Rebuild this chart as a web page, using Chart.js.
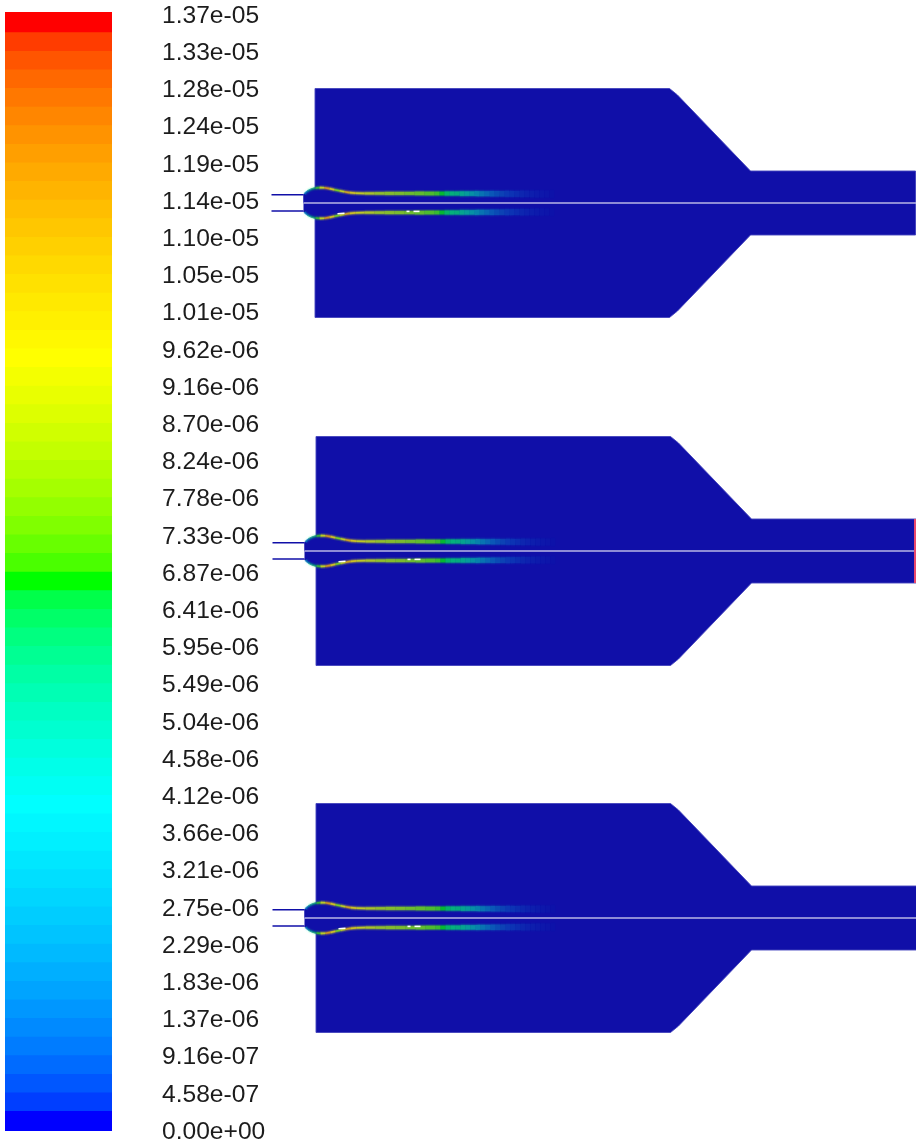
<!DOCTYPE html>
<html>
<head>
<meta charset="utf-8">
<title>Contours</title>
<script src="https://cdn.jsdelivr.net/npm/chart.js"></script>
<style>
    html, body { margin: 0; padding: 0; background: #fff; overflow: hidden; }
    canvas { position: absolute; top: 0; }
    #colorbar { left: 0; filter: blur(0.45px); }
    #contours { left: 270px; filter: blur(0.6px); }
</style>
</head>
<body>
<canvas id="colorbar" width="280" height="1142"></canvas>
<canvas id="contours" width="646" height="1142"></canvas>
<script>
// Colorbar: values are in units of 1e-6, bottom to top
const tickLabels = ['0.00e+00', '4.58e-07', '9.16e-07', '1.37e-06', '1.83e-06', '2.29e-06', '2.75e-06', '3.21e-06',
    '3.66e-06', '4.12e-06', '4.58e-06', '5.04e-06', '5.49e-06', '5.95e-06', '6.41e-06', '6.87e-06', '7.33e-06',
    '7.78e-06', '8.24e-06', '8.70e-06', '9.16e-06', '9.62e-06', '1.01e-05', '1.05e-05', '1.10e-05', '1.14e-05',
    '1.19e-05', '1.24e-05', '1.28e-05', '1.33e-05', '1.37e-05'];
const tickValues = [0, 0.458, 0.916, 1.374, 1.832, 2.29, 2.748, 3.206, 3.664, 4.122, 4.58, 5.038, 5.496, 5.954,
    6.412, 6.87, 7.328, 7.786, 8.244, 8.702, 9.16, 9.618, 10.076, 10.534, 10.992, 11.45, 11.908, 12.366, 12.824,
    13.282, 13.74];
const bandEdges = [-0.012, 0.229, 0.458, 0.687, 0.916, 1.145, 1.374, 1.603, 1.832, 2.061, 2.29, 2.519, 2.748, 2.977,
    3.206, 3.435, 3.664, 3.893, 4.122, 4.351, 4.58, 4.809, 5.038, 5.267, 5.496, 5.725, 5.954, 6.183, 6.412, 6.641,
    6.87, 7.099, 7.328, 7.557, 7.786, 8.015, 8.244, 8.473, 8.702, 8.931, 9.16, 9.389, 9.618, 9.847, 10.076, 10.305,
    10.534, 10.763, 10.992, 11.221, 11.45, 11.679, 11.908, 12.137, 12.366, 12.595, 12.824, 13.053, 13.282, 13.511,
    13.765];
const bandColors = ['#0000ff', '#003eff', '#0057ff', '#006bff', '#007cff', '#008aff', '#0097ff', '#00a4ff', '#00afff',
    '#00baff', '#00c4ff', '#00cdff', '#00d6ff', '#00dfff', '#00e7ff', '#00f0ff', '#00f7ff', '#00ffff',
    '#00fff4', '#00ffe9', '#00ffdd', '#00ffd0', '#00ffc3', '#00ffb4', '#00ffa5', '#00ff93', '#00ff80', '#00ff68',
    '#00ff4a', '#00ff00',
    '#4aff00', '#68ff00', '#80ff00', '#93ff00', '#a5ff00', '#b4ff00', '#c3ff00', '#d0ff00', '#ddff00', '#e9ff00',
    '#f4ff00', '#ffff00',
    '#fff800', '#fff000', '#ffe900', '#ffe100', '#ffd900', '#ffd000', '#ffc700', '#ffbe00', '#ffb400', '#ffaa00',
    '#ff9f00', '#ff9300', '#ff8600', '#ff7800', '#ff6800', '#ff5500', '#ff3c00', '#ff0000'];
// labels sit a little under their level in the original
const labelDrop = 0.024;

// Domain outline, axial position and signed radius
const wallX = [304, 304, 306, 310, 315.5, 315.5, 670, 678, 751, 916, 916, 751, 678, 670, 315.5, 315.5, 310, 306, 304];
const wallR = [0, 8.5, 11, 13.5, 15.5, 114.5, 114.5, 108, 32, 32, -32, -32, -108, -114.5, -114.5, -15.5, -13.5, -11, -8.5];

// Shear layer along the upper and lower wall
const layerX = [305, 308, 312, 316, 320, 325, 330, 335, 340, 345, 350, 356, 365, 375, 385, 395, 405, 415, 425, 435,
    440, 445, 450, 455, 460, 465, 470, 475, 480, 485, 490, 495, 500, 505, 510, 515, 520, 525, 530, 535, 540, 545, 550, 555];
const layerR = [9, 12, 14, 15, 15.4, 15.2, 14.4, 13.3, 12.2, 11.2, 10.4, 9.9, 9.6, 9.6, 9.6, 9.6, 9.6, 9.6, 9.6, 9.5,
    9.5, 9.5, 9.5, 9.5, 9.4, 9.4, 9.4, 9.4, 9.3, 9.3, 9.3, 9.3, 9.2, 9.2, 9.2, 9.1, 9.1, 9.1, 9.1, 9, 9, 9, 9, 9];
const layerValue = [5, 6, 6.5, 7, 9, 11.5, 10, 7.6, 9, 11, 10, 9.2, 8.8, 8.4, 8.1, 7.8, 7.6, 7.4, 7.2, 7,
    6.8, 6.6, 6.4, 6.2, 6, 5.8, 5.6, 5.4, 5.2, 5, 4.8, 4.6, 4.4, 4.2, 4, 3.9, 3.8, 3.7, 3.6, 3.5, 3.4, 3.3, 3.2, 3.1];
const layerAlpha = [0.3, 0.35, 0.4, 0.6, 0.75, 0.75, 0.75, 0.75, 0.75, 0.75, 0.75, 0.72, 0.7, 0.68, 0.66, 0.66, 0.66, 0.66, 0.66, 0.66,
    0.64, 0.62, 0.6, 0.57, 0.54, 0.5, 0.45, 0.39, 0.33, 0.28, 0.23, 0.19, 0.16, 0.13, 0.11, 0.09, 0.075, 0.06, 0.05, 0.04, 0.03, 0.025, 0.02, 0.01];
const layerWidth = [1.6, 1.6, 1.6, 1.6, 1.6, 1.6, 1.6, 1.6, 1.6, 1.6, 1.6, 1.8, 2.2, 2.5, 3, 3, 3, 3.5, 3.5, 3.5,
    3.5, 4, 4, 4, 4.5, 4.5, 4.5, 5, 5, 5, 5.5, 5.5, 5.5, 6, 6, 6, 6.5, 6.5, 6.5, 7, 7, 7, 7.5, 7.5];

// Inlet pipe and the small white gaps on the lower side of each panel
const pipeX = [272, 304];
const pipeR = [8.3, -8];
const gapX = [[338, 345], [407, 410], [414, 420]];
const gapR = [[-10.8, -10.2], [-8.4, -8.4], [-8.4, -8.4]];

// Vertical place of each panel on the y scale, and its small sideways slip
const panelCenter = [939, 591, 224];
const panelShift = [-0.5, 0.5, 0.5];

const chamberBlue = '#100fa8';

function bandColor(value, alpha) {
    let i = bandEdges.findIndex(e => e > value) - 1;
    if (i < 0) i = 0;
    const hex = bandColors[i];
    const r = parseInt(hex.slice(1, 3), 16), g = parseInt(hex.slice(3, 5), 16), b = parseInt(hex.slice(5, 7), 16);
    return `rgba(${r},${g},${b},${alpha})`;
}

function toPoints(xs, rs, center, shift) {
    return xs.map((x, i) => ({ x: x + shift, y: center + rs[i] }));
}

function initColorbar() {
    const datasets = bandColors.map((color, i) => ({
        data: [[bandEdges[i], bandEdges[i + 1]]],
        backgroundColor: color,
        borderWidth: 0,
        grouped: false,
        barPercentage: 1,
        categoryPercentage: 1
    }));
    new Chart(document.getElementById('colorbar').getContext('2d'), {
        type: 'bar',
        data: { labels: [''], datasets: datasets },
        options: {
            responsive: false, animation: false,
            layout: { padding: { left: 5, top: 12, bottom: 11, right: 0 } },
            plugins: { legend: { display: false }, tooltip: { enabled: false } },
            scales: {
                x: { display: false },
                y: {
                    position: 'right',
                    min: bandEdges[0],
                    max: bandEdges[bandEdges.length - 1],
                    grid: { display: false, drawTicks: false },
                    border: { display: false },
                    afterBuildTicks: scale => { scale.ticks = tickValues.map(v => ({ value: v - labelDrop })); },
                    afterFit: scale => { scale.width = 168; scale.paddingTop = 0; scale.paddingBottom = 0; },
                    ticks: {
                        autoSkip: false, padding: 50, crossAlign: 'near', color: '#1c1c1c',
                        font: { family: '"Liberation Sans"', size: 24.6 },
                        callback: (v, i) => tickLabels[i]
                    }
                }
            }
        }
    });
}

function layerDataset(center, shift, sign, widthExtra, alphaScale, order) {
    return {
        data: toPoints(layerX, layerR.map(r => r * sign), center, shift),
        showLine: true, pointRadius: 0, tension: 0, order: order, borderWidth: 2,
        segment: {
            borderColor: ctx => bandColor(layerValue[ctx.p0DataIndex], layerAlpha[ctx.p0DataIndex] * alphaScale),
            borderWidth: ctx => layerWidth[ctx.p0DataIndex] + widthExtra
        }
    };
}

function initContours() {
    const datasets = [];
    panelCenter.forEach((center, p) => {
        const shift = panelShift[p];
        // walls first, layers and axis go on top
        datasets.push({
            data: toPoints(wallX, wallR, center, shift),
            showLine: true, pointRadius: 0, tension: 0, order: 7,
            fill: 'shape', backgroundColor: chamberBlue,
            borderColor: 'rgba(70,70,190,0.9)', borderWidth: 1
        });
        [1, -1].forEach(sign => {
            datasets.push(layerDataset(center, shift, sign, 3.5, 0.2, 6));
            datasets.push(layerDataset(center, shift, sign, 1.5, 0.4, 5));
            datasets.push(layerDataset(center, shift, sign, 0, 0.85, 4));
            datasets.push({
                data: pipeX.map(x => ({ x: x + shift, y: center + (sign > 0 ? pipeR[0] : pipeR[1]) })),
                showLine: true, pointRadius: 0, order: 3,
                borderColor: chamberBlue, borderWidth: 1.6
            });
        });
        gapX.forEach((xs, g) => {
            datasets.push({
                data: toPoints(xs, gapR[g], center, shift),
                showLine: true, pointRadius: 0, order: 2,
                borderColor: '#ffffff', borderWidth: 1.6
            });
        });
        datasets.push({
            data: [{ x: wallX[0] + shift, y: center }, { x: wallX[9], y: center }],
            showLine: true, pointRadius: 0, order: 1,
            borderColor: '#b9b7e6', borderWidth: 1.6
        });
    });
    // the outlet of the middle panel shows a red edge
    datasets.push({
        data: [{ x: 915, y: panelCenter[1] + wallR[9] }, { x: 915, y: panelCenter[1] + wallR[11] }],
        showLine: true, pointRadius: 0, order: 0,
        borderColor: '#e8486c', borderWidth: 2
    });

    new Chart(document.getElementById('contours').getContext('2d'), {
        type: 'scatter',
        data: { datasets: datasets },
        options: {
            responsive: false, animation: false,
            layout: { padding: 0 },
            plugins: { legend: { display: false }, tooltip: { enabled: false } },
            scales: {
                x: { type: 'linear', display: false, min: 270, max: 916 },
                y: { type: 'linear', display: false, min: 0, max: 1142 }
            }
        }
    });
}

document.addEventListener('DOMContentLoaded', () => {
    initColorbar();
    initContours();
});
</script>
</body>
</html>
